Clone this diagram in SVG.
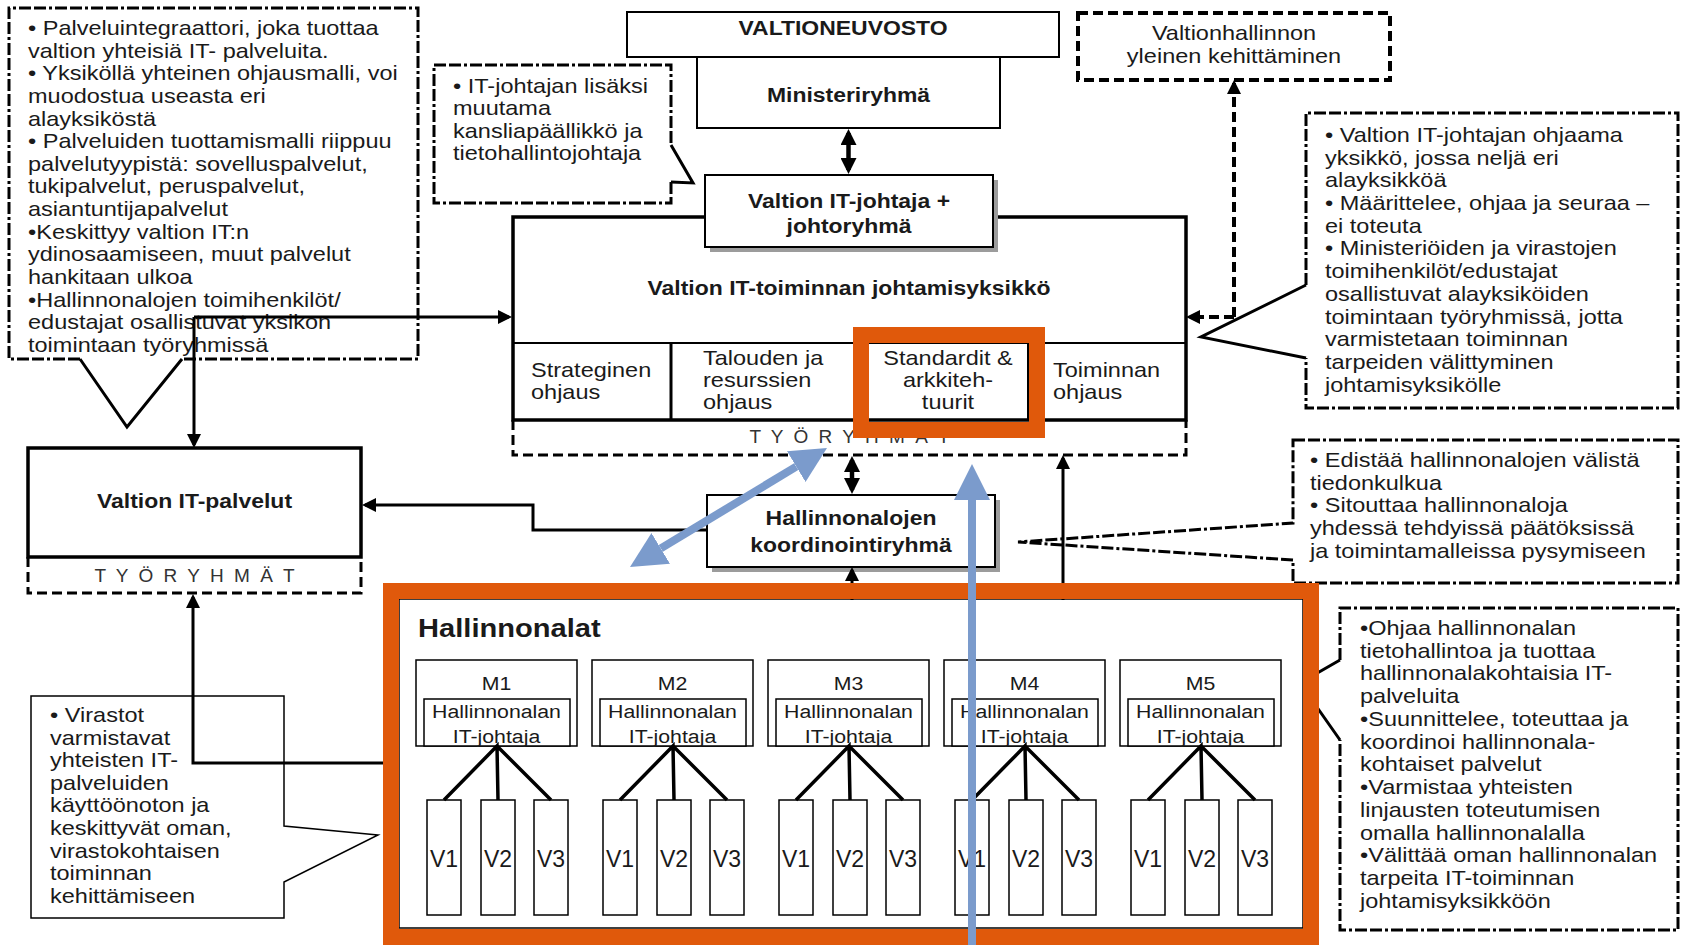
<svg xmlns="http://www.w3.org/2000/svg" width="1681" height="945" viewBox="0 0 1681 945">
<defs>
<style>
.r{font-family:"Liberation Sans",Arial,sans-serif;font-size:21px;fill:#1a1a1a}
.b{font-family:"Liberation Sans",Arial,sans-serif;font-size:20.5px;font-weight:bold;fill:#1a1a1a}
.hb{font-family:"Liberation Sans",Arial,sans-serif;font-size:26px;font-weight:bold;fill:#1a1a1a}
.s{font-family:"Liberation Sans",Arial,sans-serif;font-size:19px;fill:#1a1a1a}
.v{font-family:"Liberation Sans",Arial,sans-serif;font-size:23px;fill:#1a1a1a}
.ty{font-family:"Liberation Sans",Arial,sans-serif;font-size:19px;fill:#333}
.box{fill:#fff;stroke:#000;stroke-width:2}
.thick{fill:#fff;stroke:#000;stroke-width:3.5}
.thin{fill:#fff;stroke:#000;stroke-width:1.5}
.fillw{fill:#fff;stroke:none}
.dd{fill:none;stroke:#000;stroke-width:3;stroke-dasharray:12 3 12 3 3 3}
.tail{fill:none;stroke:#000;stroke-width:3;stroke-linejoin:miter}
.dash{fill:none;stroke:#000;stroke-width:3.5;stroke-dasharray:10 5}
.ln{fill:none;stroke:#000;stroke-width:3}
.tr{fill:none;stroke:#000;stroke-width:3.5}
.org{fill:none;stroke:#E0590B;stroke-width:16}
.blue{fill:none;stroke:#7B9BCC;stroke-width:8}
.shadow{fill:#9c9c9c}
</style>
<marker id="ah" markerUnits="userSpaceOnUse" markerWidth="14" markerHeight="14" viewBox="0 0 14 14" refX="11" refY="7" orient="auto-start-reverse"><path d="M0,0L14,7L0,14z" fill="#000"/></marker>
<marker id="ah2" markerUnits="userSpaceOnUse" markerWidth="16" markerHeight="16" viewBox="0 0 16 16" refX="12" refY="8" orient="auto-start-reverse"><path d="M0,0L16,8L0,16z" fill="#000"/></marker>
<marker id="bh" markerUnits="userSpaceOnUse" markerWidth="36" markerHeight="36" viewBox="0 0 36 36" refX="0" refY="18" orient="auto-start-reverse"><path d="M0,0L36,18L0,36z" fill="#7B9BCC"/></marker>
</defs>
<rect x="0" y="0" width="1681" height="945" fill="#fff"/>

<g id="callout-palveluintegraattori">
<path class="fillw" d="M9,8H418V359H182L127,427L80,359H9Z"/>
<path class="dd" d="M80,359H9V8H418V359H182"/>
<path class="tail" d="M80,359L127,427L182,359"/>
<text class="r" transform="translate(28,35) scale(1.12,1)"><tspan x="0">• Palveluintegraattori, joka tuottaa</tspan><tspan x="0" dy="22.64">valtion yhteisiä IT- palveluita.</tspan><tspan x="0" dy="22.64">• Yksiköllä yhteinen ohjausmalli, voi</tspan><tspan x="0" dy="22.64">muodostua useasta eri</tspan><tspan x="0" dy="22.64">alayksiköstä</tspan><tspan x="0" dy="22.64">• Palveluiden tuottamismalli riippuu</tspan><tspan x="0" dy="22.64">palvelutyypistä: sovelluspalvelut,</tspan><tspan x="0" dy="22.64">tukipalvelut, peruspalvelut,</tspan><tspan x="0" dy="22.64">asiantuntijapalvelut</tspan><tspan x="0" dy="22.64">•Keskittyy valtion IT:n</tspan><tspan x="0" dy="22.64">ydinosaamiseen, muut palvelut</tspan><tspan x="0" dy="22.64">hankitaan ulkoa</tspan><tspan x="0" dy="22.64">•Hallinnonalojen toimihenkilöt/</tspan><tspan x="0" dy="22.64">edustajat osallistuvat yksikon</tspan><tspan x="0" dy="22.64">toimintaan työryhmissä</tspan></text>
</g>

<g id="callout-it-johtajan-lisaksi">
<path class="fillw" d="M434,65H671V145L693,183L671,182V203H434Z"/>
<path class="dd" d="M671,182V203H434V65H671V145"/>
<path class="tail" d="M671,145L693,183L671,182"/>
<text class="r" transform="translate(453,93) scale(1.12,1)"><tspan x="0">• IT-johtajan lisäksi</tspan><tspan x="0" dy="22.4">muutama</tspan><tspan x="0" dy="22.4">kansliapäällikkö ja</tspan><tspan x="0" dy="22.4">tietohallintojohtaja</tspan></text>
</g>

<g id="valtionhallinnon-kehittaminen">
<rect class="dash" x="1078" y="13" width="312" height="67" style="stroke-width:4"/>
<text class="r" text-anchor="middle" transform="translate(1234,40) scale(1.12,1)"><tspan x="0">Valtionhallinnon</tspan><tspan x="0" dy="23">yleinen kehittäminen</tspan></text>
</g>

<g id="callout-johtamisyksikko">
<path class="fillw" d="M1306,113H1678V408H1306V358L1201,337L1306,285Z"/>
<path class="dd" d="M1306,285V113H1678V408H1306V358"/>
<path class="tail" d="M1306,358L1201,337L1306,285"/>
<text class="r" transform="translate(1325,142) scale(1.12,1)"><tspan x="0">• Valtion IT-johtajan ohjaama</tspan><tspan x="0" dy="22.7">yksikkö, jossa neljä eri</tspan><tspan x="0" dy="22.7">alayksikköä</tspan><tspan x="0" dy="22.7">• Määrittelee, ohjaa ja seuraa –</tspan><tspan x="0" dy="22.7">ei toteuta</tspan><tspan x="0" dy="22.7">• Ministeriöiden ja virastojen</tspan><tspan x="0" dy="22.7">toimihenkilöt/edustajat</tspan><tspan x="0" dy="22.7">osallistuvat alayksiköiden</tspan><tspan x="0" dy="22.7">toimintaan työryhmissä, jotta</tspan><tspan x="0" dy="22.7">varmistetaan toiminnan</tspan><tspan x="0" dy="22.7">tarpeiden välittyminen</tspan><tspan x="0" dy="22.7">johtamisyksikölle</tspan></text>
</g>

<g id="callout-koordinointi">
<path class="fillw" d="M1293,440H1678V583H1293V560L1018,542L1293,523Z"/>
<path class="dd" d="M1293,440H1678V583H1293V560L1018,542L1293,523Z"/>
<text class="r" transform="translate(1310,467) scale(1.12,1)"><tspan x="0">• Edistää hallinnonalojen välistä</tspan><tspan x="0" dy="22.75">tiedonkulkua</tspan><tspan x="0" dy="22.75">• Sitouttaa hallinnonaloja</tspan><tspan x="0" dy="22.75">yhdessä tehdyissä päätöksissä</tspan><tspan x="0" dy="22.75">ja toimintamalleissa pysymiseen</tspan></text>
</g>

<g id="callout-hallinnonala">
<path class="fillw" d="M1340,608H1678V930H1340V740L1300,683L1340,660Z"/>
<path class="dd" d="M1340,660V608H1678V930H1340V740"/>
<path class="tail" d="M1340,740L1300,683L1340,660"/>
<text class="r" transform="translate(1360,635) scale(1.12,1)"><tspan x="0">•Ohjaa hallinnonalan</tspan><tspan x="0" dy="22.75">tietohallintoa ja tuottaa</tspan><tspan x="0" dy="22.75">hallinnonalakohtaisia IT-</tspan><tspan x="0" dy="22.75">palveluita</tspan><tspan x="0" dy="22.75">•Suunnittelee, toteuttaa ja</tspan><tspan x="0" dy="22.75">koordinoi hallinnonala-</tspan><tspan x="0" dy="22.75">kohtaiset palvelut</tspan><tspan x="0" dy="22.75">•Varmistaa yhteisten</tspan><tspan x="0" dy="22.75">linjausten toteutumisen</tspan><tspan x="0" dy="22.75">omalla hallinnonalalla</tspan><tspan x="0" dy="22.75">•Välittää oman hallinnonalan</tspan><tspan x="0" dy="22.75">tarpeita IT-toiminnan</tspan><tspan x="0" dy="22.75">johtamisyksikköön</tspan></text>
</g>

<g id="callout-virastot">
<path d="M31,696H284V826L378,835L284,882V918H31Z" fill="#fff" stroke="#000" stroke-width="1.5"/>
<text class="r" transform="translate(50,722) scale(1.12,1)"><tspan x="0">• Virastot</tspan><tspan x="0" dy="22.6">varmistavat</tspan><tspan x="0" dy="22.6">yhteisten IT-</tspan><tspan x="0" dy="22.6">palveluiden</tspan><tspan x="0" dy="22.6">käyttöönoton ja</tspan><tspan x="0" dy="22.6">keskittyvät oman,</tspan><tspan x="0" dy="22.6">virastokohtaisen</tspan><tspan x="0" dy="22.6">toiminnan</tspan><tspan x="0" dy="22.6">kehittämiseen</tspan></text>
</g>

<g id="valtioneuvosto">
<rect class="box" x="627" y="12" width="432" height="45"/>
<text class="b" text-anchor="middle" transform="translate(843,35) scale(1.12,1)">VALTIONEUVOSTO</text>
</g>

<g id="ministeriryhma">
<rect class="box" x="697" y="57" width="303" height="71"/>
<text class="b" text-anchor="middle" transform="translate(848.5,102) scale(1.12,1)">Ministeriryhmä</text>
</g>

<g id="johtamisyksikko">
<rect class="thick" x="513" y="217" width="673" height="203"/>
<line x1="513" y1="343" x2="1186" y2="343" stroke="#000" stroke-width="2"/>
<line x1="671" y1="343" x2="671" y2="420" stroke="#000" stroke-width="3"/>
<line x1="868" y1="343" x2="868" y2="420" stroke="#000" stroke-width="2"/>
<line x1="1028" y1="343" x2="1028" y2="420" stroke="#000" stroke-width="2"/>
<text class="b" text-anchor="middle" transform="translate(849,295) scale(1.12,1)">Valtion IT-toiminnan johtamisyksikkö</text>
<text class="r" transform="translate(531,377) scale(1.12,1)"><tspan x="0">Strateginen</tspan><tspan x="0" dy="22">ohjaus</tspan></text>
<text class="r" transform="translate(703,365) scale(1.12,1)"><tspan x="0">Talouden ja</tspan><tspan x="0" dy="22">resurssien</tspan><tspan x="0" dy="22">ohjaus</tspan></text>
<text class="r" text-anchor="middle" transform="translate(948,365) scale(1.12,1)"><tspan x="0">Standardit &amp;</tspan><tspan x="0" dy="22">arkkiteh-</tspan><tspan x="0" dy="22">tuurit</tspan></text>
<text class="r" transform="translate(1053,377) scale(1.12,1)"><tspan x="0">Toiminnan</tspan><tspan x="0" dy="22">ohjaus</tspan></text>
<path class="dash" d="M513,420V455H1186V420" style="stroke-width:3"/>
<text class="ty" x="849.5" y="443" text-anchor="middle" textLength="200" lengthAdjust="spacing">T Y Ö R Y H M Ä T</text>
</g>

<g id="it-johtaja">
<rect class="shadow" x="710" y="180" width="288" height="72"/>
<rect class="box" x="705" y="175" width="288" height="72"/>
<text class="b" text-anchor="middle" transform="translate(849,208) scale(1.12,1)"><tspan x="0">Valtion IT-johtaja +</tspan><tspan x="0" dy="25">johtoryhmä</tspan></text>
</g>

<g id="it-palvelut">
<rect class="thick" x="28" y="448" width="333" height="109"/>
<text class="b" text-anchor="middle" transform="translate(194.5,508) scale(1.12,1)">Valtion IT-palvelut</text>
<path class="dash" d="M28,557V593H361V557" style="stroke-width:3"/>
<text class="ty" x="194.5" y="582" text-anchor="middle" textLength="200" lengthAdjust="spacing">T Y Ö R Y H M Ä T</text>
</g>

<g id="koordinointiryhma">
<rect class="shadow" x="712" y="500" width="288" height="72"/>
<rect class="box" x="707" y="495" width="288" height="72"/>
<text class="b" text-anchor="middle" transform="translate(851,525) scale(1.12,1)"><tspan x="0">Hallinnonalojen</tspan><tspan x="0" dy="27">koordinointiryhmä</tspan></text>
</g>

<g id="hallinnonalat">
<rect class="thin" x="399" y="599" width="904" height="329"/>
<text class="hb" transform="translate(418,637) scale(1.12,1)">Hallinnonalat</text>
</g>

<g id="m1">
<rect class="thin" x="416" y="660" width="161" height="86"/>
<rect class="thin" x="424" y="699" width="146" height="47"/>
<text class="s" text-anchor="middle" transform="translate(496.5,690) scale(1.12,1)"><tspan x="0">M1</tspan><tspan x="0" dy="28">Hallinnonalan</tspan><tspan x="0" dy="25">IT-johtaja</tspan></text>
<rect class="thin" x="427" y="800" width="34" height="115"/><rect class="thin" x="481" y="800" width="34" height="115"/><rect class="thin" x="534" y="800" width="34" height="115"/>
<text class="v" text-anchor="middle" x="444" y="867">V1</text><text class="v" text-anchor="middle" x="498" y="867">V2</text><text class="v" text-anchor="middle" x="551" y="867">V3</text>
</g>
<g id="m2">
<rect class="thin" x="592" y="660" width="161" height="86"/>
<rect class="thin" x="600" y="699" width="146" height="47"/>
<text class="s" text-anchor="middle" transform="translate(672.5,690) scale(1.12,1)"><tspan x="0">M2</tspan><tspan x="0" dy="28">Hallinnonalan</tspan><tspan x="0" dy="25">IT-johtaja</tspan></text>
<rect class="thin" x="603" y="800" width="34" height="115"/><rect class="thin" x="657" y="800" width="34" height="115"/><rect class="thin" x="710" y="800" width="34" height="115"/>
<text class="v" text-anchor="middle" x="620" y="867">V1</text><text class="v" text-anchor="middle" x="674" y="867">V2</text><text class="v" text-anchor="middle" x="727" y="867">V3</text>
</g>
<g id="m3">
<rect class="thin" x="768" y="660" width="161" height="86"/>
<rect class="thin" x="776" y="699" width="146" height="47"/>
<text class="s" text-anchor="middle" transform="translate(848.5,690) scale(1.12,1)"><tspan x="0">M3</tspan><tspan x="0" dy="28">Hallinnonalan</tspan><tspan x="0" dy="25">IT-johtaja</tspan></text>
<rect class="thin" x="779" y="800" width="34" height="115"/><rect class="thin" x="833" y="800" width="34" height="115"/><rect class="thin" x="886" y="800" width="34" height="115"/>
<text class="v" text-anchor="middle" x="796" y="867">V1</text><text class="v" text-anchor="middle" x="850" y="867">V2</text><text class="v" text-anchor="middle" x="903" y="867">V3</text>
</g>
<g id="m4">
<rect class="thin" x="944" y="660" width="161" height="86"/>
<rect class="thin" x="952" y="699" width="146" height="47"/>
<text class="s" text-anchor="middle" transform="translate(1024.5,690) scale(1.12,1)"><tspan x="0">M4</tspan><tspan x="0" dy="28">Hallinnonalan</tspan><tspan x="0" dy="25">IT-johtaja</tspan></text>
<rect class="thin" x="955" y="800" width="34" height="115"/><rect class="thin" x="1009" y="800" width="34" height="115"/><rect class="thin" x="1062" y="800" width="34" height="115"/>
<text class="v" text-anchor="middle" x="972" y="867">V1</text><text class="v" text-anchor="middle" x="1026" y="867">V2</text><text class="v" text-anchor="middle" x="1079" y="867">V3</text>
</g>
<g id="m5">
<rect class="thin" x="1120" y="660" width="161" height="86"/>
<rect class="thin" x="1128" y="699" width="146" height="47"/>
<text class="s" text-anchor="middle" transform="translate(1200.5,690) scale(1.12,1)"><tspan x="0">M5</tspan><tspan x="0" dy="28">Hallinnonalan</tspan><tspan x="0" dy="25">IT-johtaja</tspan></text>
<rect class="thin" x="1131" y="800" width="34" height="115"/><rect class="thin" x="1185" y="800" width="34" height="115"/><rect class="thin" x="1238" y="800" width="34" height="115"/>
<text class="v" text-anchor="middle" x="1148" y="867">V1</text><text class="v" text-anchor="middle" x="1202" y="867">V2</text><text class="v" text-anchor="middle" x="1255" y="867">V3</text>
</g>

<g id="connectors">
<path class="ln" d="M194,317H509" marker-end="url(#ah)"/>
<path class="ln" d="M194,317V445" marker-end="url(#ah)"/>
<path class="ln" d="M848.5,133V170" style="stroke-width:4.5" marker-start="url(#ah2)" marker-end="url(#ah2)"/>
<path class="dash" d="M1234,317V83" style="stroke-width:4" marker-end="url(#ah)"/>
<path class="dash" d="M1234,317H1189" style="stroke-width:4" marker-end="url(#ah)"/>
<path class="ln" d="M707,530H533V505H365" marker-end="url(#ah)"/>
<path class="ln" d="M852,460V490" style="stroke-width:4.5" marker-start="url(#ah2)" marker-end="url(#ah2)"/>
<path class="ln" d="M852,600V570" marker-end="url(#ah)"/>
<path class="ln" d="M1063,600V458" marker-end="url(#ah)"/>
<path class="ln" d="M383,763H193V597" marker-end="url(#ah)"/>
<path class="tr" d="M444,800L497,746L498,800M497,746L551,800"/>
<path class="tr" d="M620,800L673,746L674,800M673,746L727,800"/>
<path class="tr" d="M796,800L849,746L850,800M849,746L903,800"/>
<path class="tr" d="M972,800L1025,746L1026,800M1025,746L1079,800"/>
<path class="tr" d="M1148,800L1201,746L1202,800M1201,746L1255,800"/>
</g>

<g id="highlights">
<rect class="org" x="391" y="591" width="920" height="346"/>
<rect class="org" x="861" y="335" width="176" height="95"/>
<path class="blue" d="M972,945V500" marker-end="url(#bh)"/>
<path class="blue" d="M660.8,548.4L796.2,466.6" marker-start="url(#bh)" marker-end="url(#bh)"/>
</g>
</svg>
